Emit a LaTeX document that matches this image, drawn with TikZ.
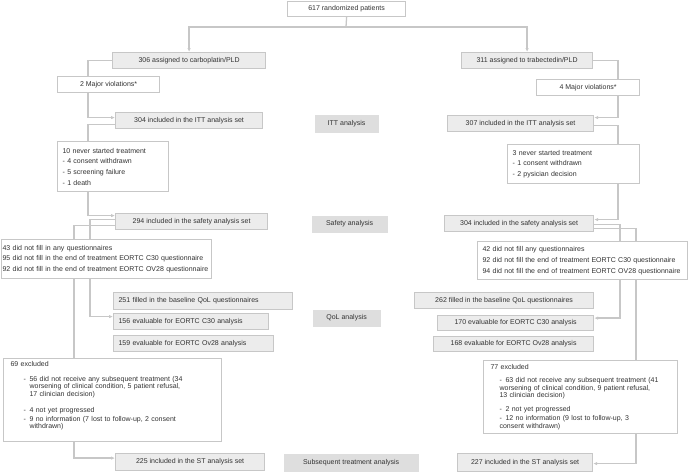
\documentclass[tikz,border=0pt]{standalone}
\usepackage{fontspec}
\setmainfont{Liberation Sans}
\usetikzlibrary{positioning, arrows.meta, backgrounds}

\definecolor{boxline}{gray}{0.78}
\definecolor{boxfill}{gray}{0.925}
\definecolor{stagefill}{gray}{0.87}
\definecolor{txt}{gray}{0.2}

% dash items in the exclusion boxes
\newcommand{\dashitem}[1][13pt]{\hspace*{#1}\makebox[6pt][l]{-}}
\newcommand{\dashcont}[1][19pt]{\hspace*{#1}}

\tikzset{
    base/.style={font=\fontsize{7}{8.4}\selectfont, text=txt, inner sep=0pt, anchor=north west, line width=1.2pt},
    wbox/.style={base, draw=boxline, fill=white},
    gbox/.style={base, draw=boxline, fill=boxfill},
    stage/.style={base, fill=stagefill},
    sz/.style 2 args={minimum width=#1pt, minimum height=#2pt},
    ltext/.style={align=left, text width=#1pt},
    multiline/.style={font=\fontsize{7}{10.6}\selectfont},
    exclist/.style={font=\fontsize{7}{7.4}\selectfont},
    conn/.style={draw=boxline, line width=1.3pt},
    arr/.style={conn, -{Latex[length=4pt,width=3.5pt]}}
}

\begin{document}
\begin{tikzpicture}[x=1pt, y=-1pt]
    \useasboundingbox (0,0) rectangle (688,472);

    % Randomisation and arms
    \node[wbox, sz={118}{15}] (rand) at (287,1) {617 randomized patients};
    \node[gbox, sz={153}{16}] (carbo) at (112,52) {306 assigned to carboplatin/PLD};
    \node[gbox, sz={131}{16}] (trab) at (461,52) {311 assigned to trabectedin/PLD};
    \node[wbox, sz={102}{16}] (violL) at (57,76) {2 Major violations*};
    \node[wbox, sz={103}{16}] (violR) at (536,79) {4 Major violations*};

    % ITT analysis
    \node[gbox, sz={147}{16}] (ittL) at (115,112) {304 included in the ITT analysis set};
    \node[gbox, sz={146}{16}] (ittR) at (447,115) {307 included in the ITT analysis set};
    \node[stage, sz={64}{18}] (ittLbl) at (314,114) {ITT analysis};
    \node[wbox, multiline, sz={111}{50}, ltext=101] (nsL) at (57,141)
        {10 never started treatment\\- 4 consent withdrawn\\- 5 screening failure\\- 1 death};
    \node[wbox, multiline, sz={132}{39}, ltext=122] (nsR) at (507,144)
        {3 never started treatment\\- 1 consent withdrawn\\- 2 pysician decision};

    % Safety analysis
    \node[gbox, sz={152}{16}] (safL) at (115,213) {294 included in the safety analysis set};
    \node[gbox, sz={149}{16}] (safR) at (444,215) {304 included in the safety analysis set};
    \node[stage, sz={76}{17}] (safLbl) at (311,215) {Safety analysis};
    \node[wbox, multiline, sz={210}{39}, ltext=208] (qolL) at (1,239)
        {43 did not fill in any questionnaires\\95 did not fill in the end of treatment EORTC C30 questionnaire\\\mbox{92 did not fill in the end of treatment EORTC OV28 questionnaire}};
    \node[wbox, multiline, sz={210}{38}, ltext=200] (qolR) at (477,241)
        {42 did not fill any questionnaires\\92 did not fill the end of treatment EORTC C30 questionnaire\\94 did not fill the end of treatment EORTC OV28 questionnaire};

    % QoL analysis
    \node[gbox, sz={179}{17}, ltext=169] (baseL) at (113,292) {251 filled in the baseline QoL questionnaires};
    \node[gbox, sz={155}{16}, ltext=145] (c30L) at (113,313) {156 evaluable for EORTC C30 analysis};
    \node[gbox, sz={160}{16}, ltext=150] (ov28L) at (113,335) {159 evaluable for EORTC Ov28 analysis};
    \node[gbox, sz={179}{16}] (baseR) at (414,292) {262 filled in the baseline QoL questionnaires};
    \node[gbox, sz={156}{15}] (c30R) at (437,315) {170 evaluable for EORTC C30 analysis};
    \node[gbox, sz={160}{15}] (ov28R) at (433,336) {168 evaluable for EORTC Ov28 analysis};
    \node[stage, sz={68}{17}] (qolLbl) at (312,309) {QoL analysis};

    % Subsequent treatment analysis
    \node[wbox, exclist, sz={218}{83}, ltext=204] (exL) at (3,358)
        {69 excluded\\[7.5pt]%
         \dashitem 56 did not receive any subsequent treatment (34\\
         \dashcont worsening of clinical condition, 5 patient refusal,\\
         \dashcont 17 clinician decision)\\[8.5pt]%
         \dashitem 4 not yet progressed\\[1.5pt]%
         \dashitem 9 no information (7 lost to follow-up, 2 consent\\
         \dashcont withdrawn)\rule[-10pt]{0pt}{10pt}};
    \node[wbox, exclist, sz={194}{73}, ltext=180] (exR) at (483,360)
        {77 excluded\\[5.7pt]%
         \dashitem[9pt]63 did not receive any subsequent treatment (41\\
         \dashcont[9pt]worsening of clinical condition, 9 patient refusal,\\
         \dashcont[9pt]13 clinician decision)\\[6.7pt]%
         \dashitem[9pt]2 not yet progressed\\[1.7pt]%
         \dashitem[9pt]12 no information (9 lost to follow-up, 3\\
         \dashcont[9pt]consent withdrawn)};
    \node[gbox, sz={149}{17}] (stL) at (115,453) {225 included in the ST analysis set};
    \node[gbox, sz={135}{18}] (stR) at (457,453) {227 included in the ST analysis set};
    \node[stage, sz={135}{18}] (stLbl) at (283,453) {Subsequent treatment analysis};

    % Connector columns
    \coordinate (split) at (346,27);
    \coordinate (lA) at (88,0);
    \coordinate (lB) at (90,0);
    \coordinate (lC) at (74,0);
    \coordinate (rA) at (618,0);
    \coordinate (rB) at (620,0);
    \coordinate (rC) at (636,0);

    \begin{scope}[on background layer]
        \draw[conn] (rand.south) -- (split);
        \draw[arr] (split) -| (carbo.north);
        \draw[arr] (split) -| (trab.north);

        % left arm
        \draw[conn] (carbo.west) -| (violL.north -| lA);
        \draw[arr] (violL.south -| lA) |- ([yshift=3pt]ittL.west);
        \draw[conn] ([yshift=-4pt]ittL.west) -| (nsL.north -| lA);
        \draw[arr] (nsL.south -| lA) |- ([yshift=6pt]safL.west);
        \draw[conn] ([yshift=2pt]safL.west) -| (qolL.north -| lB);
        \draw[conn] ([yshift=-4pt]safL.west) -| (exL.north -| lC);
        \draw[arr] (qolL.south -| lB) |- ([yshift=5pt]c30L.west);
        \draw[arr] (exL.south -| lC) |- ([yshift=4pt]stL.west);

        % right arm
        \draw[conn] (trab.east) -| (violR.north -| rA);
        \draw[arr] (violR.south -| rA) |- ([yshift=6pt]ittR.east);
        \draw[conn] ([yshift=-2pt]ittR.east) -| (nsR.north -| rA);
        \draw[arr] (nsR.south -| rA) |- ([yshift=4pt]safR.east);
        \draw[conn] ([yshift=-1pt]safR.east) -| (qolR.north -| rB);
        \draw[conn] ([yshift=-5pt]safR.east) -| (exR.north -| rC);
        \draw[arr] (qolR.south -| rB) |- ([yshift=5pt]c30R.east);
        \draw[arr] (exR.south -| rC) |- ([yshift=-1pt]stR.east);
    \end{scope}
\end{tikzpicture}
\end{document}
